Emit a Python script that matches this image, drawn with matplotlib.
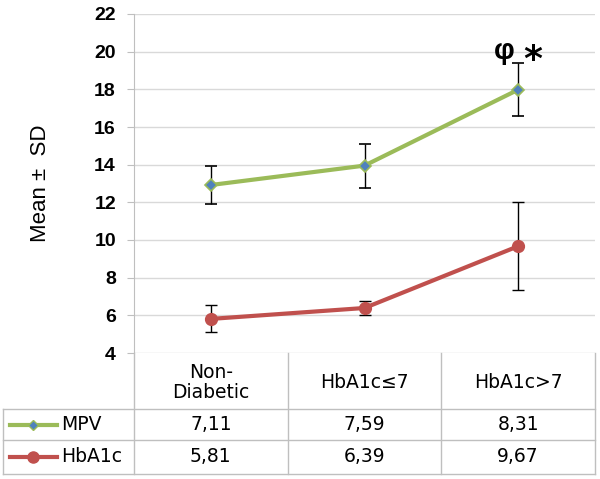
import matplotlib
matplotlib.use("Agg")
import matplotlib.pyplot as plt
from matplotlib.lines import Line2D

# data
groups = ["Non-\nDiabetic", "HbA1c\u22647", "HbA1c>7"]
mpv_mean = [12.92, 13.95, 17.98]
mpv_sd = [1.0, 1.17, 1.4]
mpv_table = [7.11, 7.59, 8.31]
hba1c_mean = [5.81, 6.39, 9.67]
hba1c_sd = [0.72, 0.35, 2.35]
y_ticks = [4, 6, 8, 10, 12, 14, 16, 18, 20, 22]

GREEN = "#9BBB59"
RED = "#C0504D"
BLUE = "#4F81BD"
GRID = "#D9D9D9"
EDGE = "#BFBFBF"

W, H = 600, 479
fig = plt.figure(figsize=(W / 100, H / 100), dpi=100)


def fx(px):
    return px / W


def fy(py):
    return 1 - py / H


# main plot area (pixel box of the reference)
left, right, top, bottom = 134, 595, 14, 353
ax = fig.add_axes([fx(left), fy(bottom), fx(right) - fx(left), fy(top) - fy(bottom)])
x = list(range(len(groups)))

ax.errorbar(x, mpv_mean, yerr=mpv_sd, color=GREEN, lw=3, marker="D", ms=6,
            mfc=BLUE, mec=GREEN, mew=1.2, ecolor="black", elinewidth=1,
            capsize=4.5, capthick=1, zorder=3)
ax.errorbar(x, hba1c_mean, yerr=hba1c_sd, color=RED, lw=3, marker="o", ms=8.5,
            mfc=RED, mec=RED, ecolor="black", elinewidth=1,
            capsize=4.5, capthick=1, zorder=3)

# significance marks above the last group
ax.text(x[-1] - 0.089, 19.62, "\u03c6", ha="center", va="baseline", fontsize=21,
        fontweight="bold", family="Liberation Sans")
ax.text(x[-1] + 0.093, 19.05, "*", ha="center", va="baseline", fontsize=26,
        fontweight="bold", family="DejaVu Sans")

ax.set_xlim(-0.5, len(groups) - 0.5)
ax.set_ylim(y_ticks[0], y_ticks[-1])
ax.set_yticks(y_ticks)
ax.set_yticklabels([str(t) for t in y_ticks], fontsize=14, fontweight="bold",
                   family="Liberation Sans")
ax.set_xticks([])
ax.yaxis.grid(True, color=GRID, lw=1)
ax.set_axisbelow(True)
for s in ["top", "right", "bottom"]:
    ax.spines[s].set_visible(False)
ax.spines["left"].set_color(EDGE)
ax.tick_params(axis="y", length=5, color=EDGE, pad=8)
ax.set_ylabel("Mean \u00b1  SD", fontsize=16, family="Liberation Sans", labelpad=31)

# data table below the plot
tab = fig.add_axes([0, 0, 1, 1])
tab.set_xlim(0, W)
tab.set_ylim(H, 0)
tab.axis("off")

col_w = (right - left) / len(groups)
cols = [left + i * col_w for i in range(len(groups) + 1)]
rows = [354, 409, 440, 474]
lab_left = 3
fs = 13.5

for cx in cols:
    tab.plot([cx, cx], [bottom, rows[-1]], color=EDGE, lw=1)
tab.plot([lab_left, lab_left], [rows[1], rows[-1]], color=EDGE, lw=1)
for ry in rows[1:]:
    tab.plot([lab_left, right], [ry, ry], color=EDGE, lw=1)

for i, g in enumerate(groups):
    cx = (cols[i] + cols[i + 1]) / 2
    tab.text(cx, (rows[0] + rows[1]) / 2 + 1, g, ha="center", va="center",
             fontsize=fs, linespacing=1.0)
    tab.text(cx, (rows[1] + rows[2]) / 2, f"{mpv_table[i]:.2f}".replace(".", ","),
             ha="center", va="center", fontsize=fs)
    tab.text(cx, (rows[2] + rows[3]) / 2, f"{hba1c_mean[i]:.2f}".replace(".", ","),
             ha="center", va="center", fontsize=fs)

series = [("MPV", GREEN, "D", BLUE, 5), ("HbA1c", RED, "o", RED, 8)]
for k, (name, col, mk, mfc, ms) in enumerate(series):
    cy = (rows[k + 1] + rows[k + 2]) / 2
    tab.add_line(Line2D([10, 57], [cy, cy], color=col, lw=3))
    tab.add_line(Line2D([33], [cy], marker=mk, ms=ms, mfc=mfc, mec=col, lw=0))
    tab.text(61, cy, name, ha="left", va="center", fontsize=fs)

fig.savefig("out.png", dpi=100, facecolor="white")
